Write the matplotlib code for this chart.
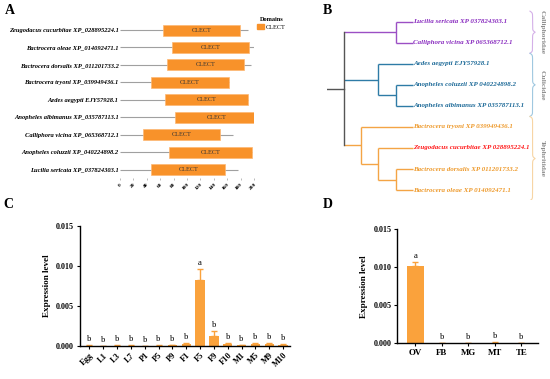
import numpy as np
import matplotlib
matplotlib.use("Agg")
import matplotlib.pyplot as plt
from matplotlib.patches import Patch

plt.rcParams['font.family'] = ['Liberation Serif', 'DejaVu Serif']

W, H = 550, 379

# ---------------- data ----------------
# Panel A: domain architecture (protein length, CLECT start/end)
a_names = ["Zeugodacus cucurbitae XP_028895224.1", "Bactrocera oleae XP_014092471.1",
           "Bactrocera dorsalis XP_011201733.2", "Bactrocera tryoni XP_039949436.1",
           "Aedes aegypti EJY57928.1", "Anopheles albimanus XP_035787113.1",
           "Calliphora vicina XP_065368712.1", "Anopheles coluzzii XP_040224898.2",
           "Lucilia sericata XP_037824303.1"]
a_length = [191, 206, 196, 163, 191, 206, 169, 197, 176]
a_dom_start = [64, 78, 70, 46, 67, 82, 35, 73, 47]
a_dom_end = [179, 193, 185, 163, 191, 206, 149, 197, 157]
a_ticks = [0, 20, 40, 60, 80, 100, 120, 140, 160, 180, 200]

# Panel B: tree (nested tuples), leaf labels and clades
tree = (("Lucilia sericata XP 037824303.1", "Calliphora vicina XP 065368712.1"),
        ("Aedes aegypti EJY57928.1",
         ("Anopheles coluzzii XP 040224898.2", "Anopheles albimanus XP 035787113.1")),
        ("Bactrocera tryoni XP 039949436.1",
         ("Zeugodacus cucurbitae XP 028895224.1",
          ("Bactrocera dorsalis XP 011201733.2", "Bactrocera oleae XP 014092471.1"))))
clades = ["Calliphoridae", "Culicidae", "Tephritidae"]
clade_line = ["#9B4FC4", "#2E7BA6", "#F4A445"]
clade_text = ["#8A2EC0", "#1D6A98", "#EE9A2C"]
clade_brace = ["#D4B0E8", "#A0C8E0", "#F7D5A4"]
highlight = "Zeugodacus cucurbitae XP 028895224.1"

# Panel C: developmental stages
c_labels = ["Egg", "L1", "L3", "L7", "P1", "P5", "P9", "F1", "F5", "F9",
            "F10", "M1", "M5", "M9", "M10"]
c_mean = [0.00005, 0.00002, 0.00005, 0.00005, 0.00002, 0.00005, 0.0001, 0.0002,
          0.0082, 0.00125, 0.0002, 0.0001, 0.00025, 0.0002, 0.00015]
c_err = [0.00002, 0.00001, 0.00002, 0.00002, 0.00001, 0.00002, 0.00003, 0.0002,
         0.0014, 0.0006, 0.0002, 0.00005, 0.0001, 0.00015, 0.0001]
c_sig = ["b", "b", "b", "b", "b", "b", "b", "b", "a", "b", "b", "b", "b", "b", "b"]

# Panel D: tissues
d_labels = ["OV", "FB", "MG", "MT", "TE"]
d_mean = [0.0102, 0.00005, 0.00005, 0.0001, 0.00003]
d_err = [0.0005, 0.00002, 0.00002, 0.00003, 0.00001]
d_sig = ["a", "b", "b", "b", "b"]

BAR = "#FAA23C"
BOX = "#F8922A"


def rect(x0, y0, x1, y1):
    # pixel box (top-left origin) -> figure fraction
    return [x0 / W, 1 - y1 / H, (x1 - x0) / W, (y1 - y0) / H]


fig = plt.figure(figsize=(W / 100, H / 100), dpi=100)

# ---------------- A ----------------
axA = fig.add_axes(rect(120, 21.3, 254, 178.3))
rows = np.arange(len(a_names))
axA.hlines(rows, 0, a_length, color="#A0A0A0", lw=0.8, zorder=1)
axA.barh(rows, np.array(a_dom_end) - np.array(a_dom_start), left=a_dom_start,
         height=0.63, color=BOX, edgecolor="#FDB873", lw=0.5, zorder=2)
for r, s, e in zip(rows, a_dom_start, a_dom_end):
    axA.text((s + e) / 2, r, "CLECT", ha="center", va="center", fontsize=4.5,
             color="#333333", zorder=3)
axA.set_xlim(0, 200)
axA.set_ylim(len(a_names) - 0.5, -0.5)
axA.set_yticks(rows)
axA.set_yticklabels(a_names, fontsize=4.7, style="italic", weight="bold")
axA.set_xticks(a_ticks)
axA.set_xticklabels([str(t) for t in a_ticks], fontsize=3.9, weight="bold",
                    rotation=45, ha="right", rotation_mode="anchor")
axA.tick_params(axis="y", length=0, pad=1)
axA.tick_params(axis="x", length=1.5, width=0.4, color="#888888", pad=1.5)
for sp in axA.spines.values():
    sp.set_visible(False)
leg = fig.legend(handles=[Patch(facecolor=BOX, edgecolor=BOX, label="CLECT")],
                 title="Domains", loc="upper left", bbox_to_anchor=(253 / W, 1 - 13 / H),
                 frameon=False, fontsize=4.5, title_fontsize=4.5,
                 handlelength=1.0, handleheight=1.0, handletextpad=0.4,
                 borderpad=0.2, labelspacing=0.2)
leg.get_title().set_weight("bold")

# ---------------- B ----------------
axB = fig.add_axes(rect(326.7, 0, 550, 200))
axB.set_xlim(0, 12.94)
axB.set_ylim(8.47, -1.03)
axB.axis("off")

leaves = []


def height(node):
    if isinstance(node, str):
        return 0
    return 1 + max(height(c) for c in node)


tip_x = height(tree) + 1


def draw(node, color):
    # returns (x, y) of node; leaves appended in order
    if isinstance(node, str):
        y = len(leaves)
        leaves.append(node)
        return tip_x, y
    x = tip_x - height(node)
    pts = [draw(c, color) for c in node]
    ys = [p[1] for p in pts]
    for cx, cy in pts:
        axB.plot([x, cx], [cy, cy], color=color, lw=1.0, solid_capstyle="butt")
    axB.plot([x, x], [ys[0], ys[-1]], color=color, lw=1.0, solid_capstyle="butt")
    return x, (ys[0] + ys[-1]) / 2


root_x = tip_x - height(tree)
clade_ranges = []
child_pts = []
for ci, sub in enumerate(tree):
    start = len(leaves)
    cx, cy = draw(sub, clade_line[ci])
    clade_ranges.append((start, len(leaves) - 1))
    child_pts.append((cx, cy))
    axB.plot([root_x, cx], [cy, cy], color=clade_line[ci], lw=1.0, solid_capstyle="butt")
root_y = (child_pts[0][1] + child_pts[-1][1]) / 2
axB.plot([root_x, root_x], [child_pts[0][1], child_pts[-1][1]], color="#555555", lw=1.0)
axB.plot([0, root_x], [root_y, root_y], color="#555555", lw=1.0)

for ci, (s, e) in enumerate(clade_ranges):
    for i in range(s, e + 1):
        name = leaves[i]
        col = "#FF1A1A" if name == highlight else clade_text[ci]
        axB.text(tip_x, i, name, ha="left", va="center", fontsize=5.0,
                 style="italic", weight="bold", color=col)
    # curly brace
    y0, y1 = s - 0.5, e + 0.5
    n = 200
    half = np.linspace(0, (y1 - y0) / 2, n)
    beta = 25
    shape = 1 / (1 + np.exp(-beta * (half - half[0]))) + 1 / (1 + np.exp(-beta * (half - half[-1])))
    ys = np.concatenate([y0 + half, y0 + (y1 - y0) / 2 + half])
    xs = np.concatenate([shape, shape[::-1]])
    axB.plot(11.78 + (xs - 0.5) * 0.3, ys, color=clade_brace[ci], lw=0.8)
    axB.text(12.5, (y0 + y1) / 2, clades[ci], rotation=-90, ha="center", va="center",
             fontsize=5.4, weight="bold", color="#8C8C8C")


# ---------------- C & D ----------------
def bar_panel(ax, labels, mean, err, sig, width, rot, xlim):
    x = np.arange(len(labels))
    ax.bar(x, mean, width=width, color=BAR, zorder=2)
    ax.errorbar(x, mean, yerr=[np.zeros(len(err)), err], fmt="none", ecolor=BAR,
                elinewidth=1.0, capsize=2.5 if width < 0.7 else 3.5, capthick=1.0, zorder=2)
    for xi, m, e, s in zip(x, mean, err, sig):
        ax.annotate(s, (xi, m + e), xytext=(0, 1.5), textcoords="offset points",
                    ha="center", va="bottom", fontsize=6.2)
    ax.set_ylim(0, 0.015)
    ax.set_xlim(*xlim)
    ax.set_yticks([0, 0.005, 0.010, 0.015])
    ax.set_yticklabels(["0.000", "0.005", "0.010", "0.015"], fontsize=5.8, weight="bold")
    ax.set_xticks(x)
    if rot:
        ax.set_xticklabels(labels, fontsize=6.0, weight="bold", rotation=45,
                           ha="right", rotation_mode="anchor")
    else:
        ax.set_xticklabels(labels, fontsize=6.4, weight="bold")
    ax.set_ylabel("Expression level", fontsize=6.6, weight="bold", labelpad=4)
    ax.spines["top"].set_visible(False)
    ax.spines["right"].set_visible(False)
    ax.spines["left"].set_linewidth(1.0)
    ax.spines["bottom"].set_linewidth(1.0)
    ax.tick_params(length=2.5, width=0.8, pad=1.5)


axC = fig.add_axes(rect(79.7, 226, 290, 346))
bar_panel(axC, c_labels, c_mean, c_err, c_sig, 0.68, True, (-0.7, 14.5))
axD = fig.add_axes(rect(397.3, 229.3, 538, 343.3))
bar_panel(axD, d_labels, d_mean, d_err, d_sig, 0.66, False, (-0.68, 4.63))

# panel letters
for lab, (px, py) in zip("ABCD", [(9.5, 11), (327.5, 11), (8, 204), (328, 204)]):
    fig.text(px / W, 1 - py / H, lab, fontsize=10, weight="bold", ha="center", va="center")

fig.savefig("out.png", dpi=100)
